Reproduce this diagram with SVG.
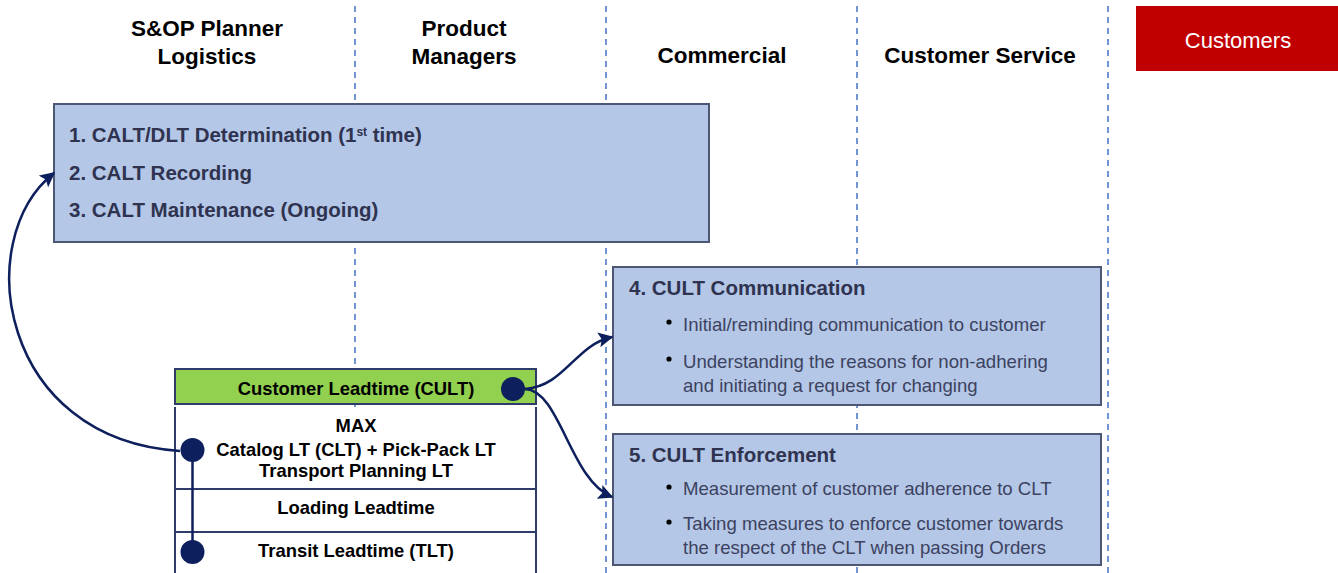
<svg xmlns="http://www.w3.org/2000/svg" width="1338" height="573" viewBox="0 0 1338 573">
<style>
.hdr{font-family:"Liberation Sans",Arial,sans-serif;font-weight:bold;font-size:22.5px;fill:#000;text-anchor:middle}
.lane{stroke:#4472C4;stroke-width:1.5;stroke-dasharray:6 5;fill:none}
.box{fill:#B4C7E7;stroke:#4D5675;stroke-width:2}
.bt{font-family:"Liberation Sans",Arial,sans-serif;font-weight:bold;font-size:20.5px;fill:#2F3350}
.bl{font-family:"Liberation Sans",Arial,sans-serif;font-size:18.6px;fill:#3C4260}
.tt{font-family:"Liberation Sans",Arial,sans-serif;font-weight:bold;font-size:18.4px;fill:#000;text-anchor:middle}
.tb{stroke:#2F3B6B;stroke-width:2;fill:none}
.con{stroke:#0D1F5C;stroke-width:2.5;fill:none}
.dot{fill:#0D1F5C}
</style>
<defs>
<marker id="arr" viewBox="0 0 10 10" refX="9" refY="5" markerWidth="6" markerHeight="6" markerUnits="strokeWidth" orient="auto">
<path d="M0,0 L10,5 L0,10 L2,5 z" fill="#0D1F5C"/>
</marker>
</defs>
<rect width="1338" height="573" fill="#fff"/>
<g id="lanes">
<line class="lane" x1="355" y1="6" x2="355" y2="573"/>
<line class="lane" x1="606" y1="6" x2="606" y2="573"/>
<line class="lane" x1="857" y1="6" x2="857" y2="573"/>
<line class="lane" x1="1108" y1="6" x2="1108" y2="573"/>
</g>
<g id="headers">
<text class="hdr" x="207" y="36">S&amp;OP Planner</text>
<text class="hdr" x="207" y="64">Logistics</text>
<text class="hdr" x="464" y="36">Product</text>
<text class="hdr" x="464" y="64">Managers</text>
<text class="hdr" x="722" y="63">Commercial</text>
<text class="hdr" x="980" y="63">Customer Service</text>
</g>
<g id="customers">
<rect x="1136" y="6" width="202" height="65" fill="#C00000"/>
<text x="1238" y="48" font-family="'Liberation Sans',Arial,sans-serif" font-size="22px" fill="#fff" text-anchor="middle">Customers</text>
</g>
<g id="calt-box">
<rect class="box" x="54" y="104" width="655" height="138"/>
<text class="bt" x="69" y="142">1. CALT/DLT Determination (1<tspan font-size="12px" baseline-shift="6">st</tspan> time)</text>
<text class="bt" x="69" y="180">2. CALT Recording</text>
<text class="bt" x="69" y="217">3. CALT Maintenance (Ongoing)</text>
</g>
<g id="cult-communication">
<rect class="box" x="613" y="267" width="488" height="138"/>
<text class="bt" x="629" y="295">4. CULT Communication</text>
<circle cx="669" cy="322" r="2.6" fill="#000"/>
<text class="bl" x="683" y="331">Initial/reminding communication to customer</text>
<circle cx="669" cy="359" r="2.6" fill="#000"/>
<text class="bl" x="683" y="368">Understanding the reasons for non-adhering</text>
<text class="bl" x="683" y="392">and initiating a request for changing</text>
</g>
<g id="cult-enforcement">
<rect class="box" x="613" y="434" width="488" height="131"/>
<text class="bt" x="629" y="462">5. CULT Enforcement</text>
<circle cx="669" cy="487" r="2.6" fill="#000"/>
<text class="bl" x="683" y="495">Measurement of customer adherence to CLT</text>
<circle cx="669" cy="522" r="2.6" fill="#000"/>
<text class="bl" x="683" y="530">Taking measures to enforce customer towards</text>
<text class="bl" x="683" y="554">the respect of the CLT when passing Orders</text>
</g>
<g id="leadtime-table">
<rect x="175" y="369" width="361" height="35" fill="#92D050" stroke="#2F3B6B" stroke-width="2"/>
<text class="tt" x="356" y="395">Customer Leadtime (CULT)</text>
<rect x="175" y="407" width="361" height="170" fill="#fff"/>
<line class="tb" x1="175" y1="407" x2="175" y2="573"/>
<line class="tb" x1="536" y1="407" x2="536" y2="573"/>
<line class="tb" x1="175" y1="489" x2="536" y2="489"/>
<line class="tb" x1="175" y1="532" x2="536" y2="532"/>
<text class="tt" x="356" y="432">MAX</text>
<text class="tt" x="356" y="456">Catalog LT (CLT) + Pick-Pack LT</text>
<text class="tt" x="356" y="477">Transport Planning LT</text>
<text class="tt" x="356" y="514">Loading Leadtime</text>
<text class="tt" x="356" y="557">Transit Leadtime (TLT)</text>
</g>
<g id="connectors">
<path class="con" d="M180,451 C0,440 -30,240 54,173" marker-end="url(#arr)"/>
<path class="con" d="M525,389 C565,386 575,345 612,337" marker-end="url(#arr)"/>
<path class="con" d="M525,389 C560,390 570,480 612,497" marker-end="url(#arr)"/>
<line class="con" x1="192.5" y1="450" x2="192.5" y2="552" stroke-width="3"/>
<circle class="dot" cx="513" cy="389" r="12"/>
<circle class="dot" cx="192.5" cy="450" r="12"/>
<circle class="dot" cx="192.5" cy="552" r="12"/>
</g>
</svg>
